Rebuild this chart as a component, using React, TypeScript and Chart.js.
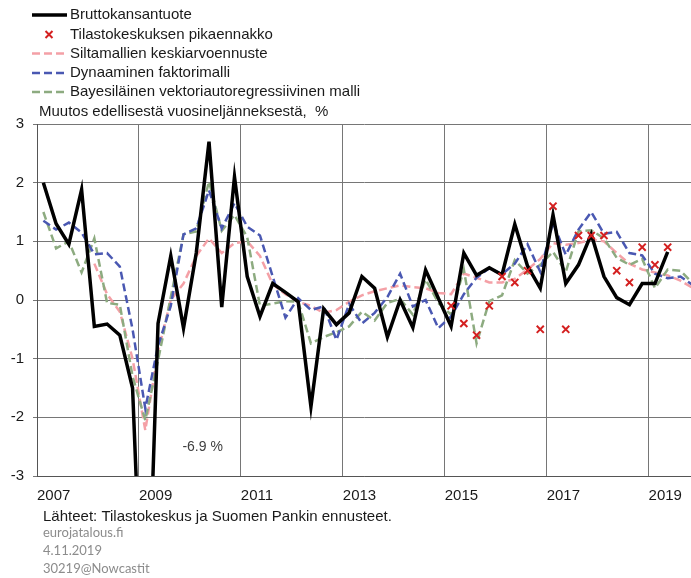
import { useEffect, useRef } from "react";
import { Chart, registerables } from "chart.js";

Chart.register(...registerables);

// ---- data ----
const years = [2007, 2008, 2009, 2010, 2011, 2012, 2013, 2014, 2015, 2016, 2017, 2018, 2019];
const quarterNames = ["Q1", "Q2", "Q3", "Q4"];
const categories = years.flatMap((y) => quarterNames.map((q) => `${y}${q}`));
const yearTickLabels = ["2007", "2009", "2011", "2013", "2015", "2017", "2019"];
const yTickValues = [-3, -2, -1, 0, 1, 2, 3];

const gdp = [
  2.0, 1.3, 0.95, 1.88, -0.45, -0.41, -0.6, -1.5,
  -6.9, -0.4, 0.75, -0.48, 0.8, 2.7, -0.12, 2.1,
  0.4, -0.28, 0.28, 0.13, -0.03, -1.82, -0.15, -0.42,
  -0.22, 0.4, 0.2, -0.63, 0.0, -0.47, 0.51, 0.03,
  -0.45, 0.8, 0.42, 0.55, 0.43, 1.29, 0.58, 0.2,
  1.45, 0.28, 0.6, 1.12, 0.4, 0.04, -0.08, 0.28,
  0.28, 0.82, null, null,
];

const flash = [
  null, null, null, null, null, null, null, null,
  null, null, null, null, null, null, null, null,
  null, null, null, null, null, null, null, null,
  null, null, null, null, null, null, null, null,
  -0.1, -0.4, -0.6, -0.1, 0.4, 0.3, 0.5, -0.5,
  1.6, -0.5, 1.1, 1.1, 1.1, 0.5, 0.3, 0.9,
  0.6, 0.9, null, null,
];

const bridge = [
  null, null, null, null, 0.62, 0.1, -0.2, -1.0,
  -2.22, -0.88, 0.0, 0.28, 0.75, 1.05, 0.8, 0.97,
  1.0, 0.75, 0.27, 0.1, -0.03, -0.1, -0.22, -0.17,
  -0.03, 0.08, 0.15, 0.2, 0.25, 0.22, 0.2, 0.12,
  0.1, 0.45, 0.38, 0.3, 0.3, 0.36, 0.52, 0.7,
  0.97, 0.94, 0.97, 1.03, 1.0, 0.8, 0.62, 0.52,
  0.47, 0.42, 0.33, 0.2,
];

const dfm = [
  1.35, 1.2, 1.32, 1.15, 0.78, 0.8, 0.57, -0.5,
  -1.85, -0.78, -0.1, 1.12, 1.22, 1.87, 1.22, 1.65,
  1.25, 1.1, 0.4, -0.3, 0.03, -0.17, -0.11, -0.68,
  -0.07, -0.4, -0.22, 0.05, 0.45, -0.11, 0.0, -0.48,
  -0.28, 0.1, 0.38, 0.54, 0.44, 0.62, 0.95, 0.48,
  1.32, 0.77, 1.2, 1.5, 1.13, 1.16, 0.8, 0.76,
  0.45, 0.37, 0.4, 0.25,
];

const bvar = [
  1.5, 0.88, 1.0, 0.47, 1.05, -0.05, -0.08, -1.3,
  -2.05, -1.03, 0.05, 1.12, 1.17, 2.02, 1.18, 1.45,
  1.07, -0.1, -0.06, -0.02, -0.03, -0.74, -0.63, -0.55,
  -0.45, -0.2, -0.35, -0.05, 0.02, -0.25, 0.35, -0.05,
  -0.25, 0.52, -0.74, -0.02, 0.08, 0.68, 0.45, 0.6,
  0.82, 0.48, 1.17, 1.19, 1.05, 0.72, 0.6, 0.7,
  0.2, 0.52, 0.5, 0.28,
];

const seriesNames = [
  "Bruttokansantuote",
  "Tilastokeskuksen pikaennakko",
  "Siltamallien keskiarvoennuste",
  "Dynaaminen faktorimalli",
  "Bayesiläinen vektoriautoregressiivinen malli",
];
const unitLabel = "Muutos edellisestä vuosineljänneksestä,  %";
const sourceNote = "Lähteet: Tilastokeskus ja Suomen Pankin ennusteet.";
const credits = ["eurojatalous.fi", "4.11.2019", "30219@Nowcastit"];
const troughNote = "-6.9 %";
const troughNoteAt = { q: 13, v: -2.5 };

// ---- styles ----
const FONT = "'Liberation Sans', Arial, sans-serif";
const TEXT = "#1a1a1a";
const GRID = "#767676";
const C_GDP = "#000000";
const C_FLASH = "#d42020";
const C_BRIDGE = "#f4a0a6";
const C_DFM = "#4a58b2";
const C_BVAR = "#8dab80";
const DASH = [8, 4];

const toPoints = (arr: (number | null)[]) =>
  categories.map((_, i) => ({ x: i + 0.5, y: arr[i] ?? null }));

const overlayPlugin = {
  id: "overlay",
  afterDraw(chart: any) {
    const ctx = chart.ctx as CanvasRenderingContext2D;
    ctx.save();
    const rows = [15, 34.5, 53.5, 73, 92];
    const styles = [
      { kind: "solid", color: C_GDP },
      { kind: "x", color: C_FLASH },
      { kind: "dash", color: C_BRIDGE },
      { kind: "dash", color: C_DFM },
      { kind: "dash", color: C_BVAR },
    ];
    rows.forEach((y, k) => {
      const st = styles[k];
      ctx.strokeStyle = st.color;
      if (st.kind === "solid") {
        ctx.setLineDash([]);
        ctx.lineWidth = 3.5;
        ctx.beginPath();
        ctx.moveTo(32, y);
        ctx.lineTo(67, y);
        ctx.stroke();
      } else if (st.kind === "dash") {
        ctx.setLineDash(DASH);
        ctx.lineWidth = 2.5;
        ctx.beginPath();
        ctx.moveTo(32, y);
        ctx.lineTo(67, y);
        ctx.stroke();
      } else {
        ctx.setLineDash([]);
        ctx.lineWidth = 2;
        const cx = 49, r = 3.5;
        ctx.beginPath();
        ctx.moveTo(cx - r, y - r);
        ctx.lineTo(cx + r, y + r);
        ctx.moveTo(cx + r, y - r);
        ctx.lineTo(cx - r, y + r);
        ctx.stroke();
      }
      ctx.fillStyle = TEXT;
      ctx.font = `15px ${FONT}`;
      ctx.textBaseline = "middle";
      ctx.textAlign = "left";
      ctx.fillText(seriesNames[k], 70, y);
    });
    ctx.fillText(unitLabel, 39, 112);
    const xs = chart.scales.x, ys = chart.scales.y;
    ctx.font = `14px ${FONT}`;
    ctx.fillStyle = "#404040";
    ctx.textAlign = "center";
    ctx.fillText(troughNote, xs.getPixelForValue(troughNoteAt.q), ys.getPixelForValue(troughNoteAt.v));
    ctx.textAlign = "left";
    ctx.fillStyle = TEXT;
    ctx.font = `15px ${FONT}`;
    ctx.fillText(sourceNote, 43, 517);
    ctx.fillStyle = "#8c8c8c";
    ctx.font = `13px Lato, 'Liberation Sans', sans-serif`;
    credits.forEach((t, k) => ctx.fillText(t, 43, 533 + k * 18));
    ctx.restore();
  },
};

export default function App() {
  const ref = useRef<HTMLCanvasElement | null>(null);
  useEffect(() => {
    document.body.style.margin = "0";
    if (!ref.current) return;
    const lineDs = (label: string, arr: (number | null)[], color: string, dashed: boolean) => ({
      label,
      data: toPoints(arr),
      borderColor: color,
      backgroundColor: color,
      borderWidth: dashed ? 2.5 : 3.5,
      borderDash: dashed ? DASH : [],
      pointRadius: 0,
      tension: 0,
      fill: false,
      clip: 0,
    });
    const chart = new Chart(ref.current, {
      type: "line",
      data: {
        datasets: [
          {
            label: seriesNames[1],
            data: toPoints(flash),
            showLine: false,
            pointStyle: "crossRot",
            pointRadius: 5,
            pointBorderWidth: 2,
            pointBorderColor: C_FLASH,
            borderColor: C_FLASH,
            backgroundColor: C_FLASH,
            clip: 0,
          } as any,
          lineDs(seriesNames[0], gdp, C_GDP, false),
          lineDs(seriesNames[3], dfm, C_DFM, true),
          lineDs(seriesNames[4], bvar, C_BVAR, true),
          lineDs(seriesNames[2], bridge, C_BRIDGE, true),
        ],
      },
      options: {
        animation: false,
        responsive: true,
        maintainAspectRatio: false,
        layout: { autoPadding: false, padding: { top: 124, left: 0, right: 0, bottom: 0 } },
        plugins: { legend: { display: false }, tooltip: { enabled: false } },
        scales: {
          x: {
            type: "linear",
            min: 0,
            max: 51.33,
            afterBuildTicks: (s: any) => {
              s.ticks = yearTickLabels.map((_, k) => ({ value: k * 8 }));
            },
            afterFit: (s: any) => {
              s.height = 102;
              s.paddingLeft = 0;
              s.paddingRight = 0;
            },
            ticks: {
              callback: (v: any) => yearTickLabels[Math.round(Number(v) / 8)] ?? "",
              align: "start",
              padding: 11,
              maxRotation: 0,
              autoSkip: false,
              color: TEXT,
              font: { family: FONT, size: 15 },
            },
            grid: { color: GRID, lineWidth: 1, drawTicks: false },
            border: { display: true, color: "#555555", width: 1 },
          },
          y: {
            min: -3,
            max: 3,
            afterBuildTicks: (s: any) => {
              s.ticks = yTickValues.map((v) => ({ value: v }));
            },
            afterFit: (s: any) => {
              s.width = 37;
            },
            ticks: {
              padding: 9,
              color: TEXT,
              font: { family: FONT, size: 15 },
            },
            grid: { color: GRID, lineWidth: 1, drawTicks: true, tickLength: 4 },
            border: { display: true, color: "#555555", width: 1 },
          },
        },
      } as any,
      plugins: [overlayPlugin],
    });
    return () => chart.destroy();
  }, []);
  return (
    <div style={{ width: 691, height: 578, position: "relative" }}>
      <canvas ref={ref} />
    </div>
  );
}
